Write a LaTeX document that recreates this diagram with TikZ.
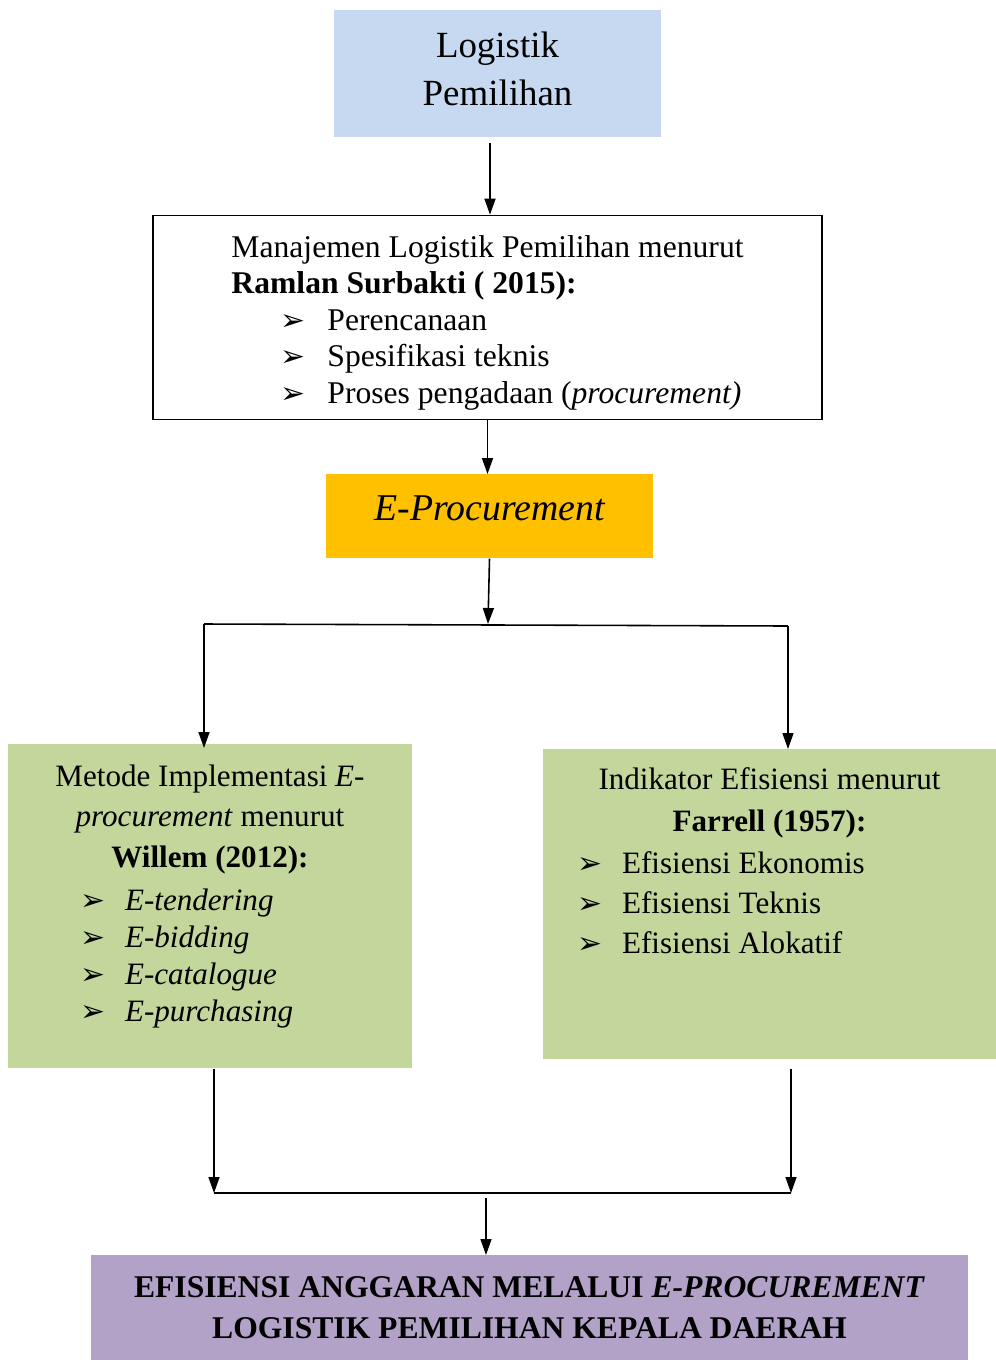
\documentclass[tikz,border=0pt]{standalone}
\usepackage{fontspec}
\setmainfont{Liberation Serif}
\newfontfamily\symfont{DejaVu Sans}
\usepackage{tikz}
\usetikzlibrary{positioning}
\usetikzlibrary{arrows.meta}
\definecolor{logblue}{HTML}{C6D9F1}
\definecolor{procgold}{HTML}{FFC000}
\definecolor{leafgreen}{HTML}{C3D69B}
\definecolor{resultlilac}{HTML}{B2A2C7}
\newcommand{\pointer}{{\symfont\fontsize{17}{17}\selectfont ➢}}
\newcommand{\pointitem}[2]{\makebox[#1][l]{\pointer}#2}

\begin{document}
\begin{tikzpicture}[x=0.02cm, y=-0.02cm,
topnode/.style={rectangle, fill=logblue, inner sep=0pt, minimum width=6.54cm, align=center, text height=1.9cm, text depth=0.64cm, font=\fontsize{21}{27.2}\selectfont},
managenode/.style={rectangle, draw=black, line width=0.8pt, fill=white, inner sep=0pt, minimum width=13.38cm, align=left, text height=3.76cm, text depth=0.32cm, font=\fontsize{18}{20.8}\selectfont},
procnode/.style={rectangle, fill=procgold, inner sep=0pt, minimum width=6.54cm, align=center, text height=0.92cm, text depth=0.76cm, font=\fontsize{21.5}{24}\selectfont\itshape},
branchnode/.style={rectangle, fill=leafgreen, inner sep=0pt, align=center, font=\fontsize{17.7}{21}\selectfont},
resultnode/.style={rectangle, fill=resultlilac, inner sep=0pt, minimum width=17.54cm, align=center, text height=1.66cm, text depth=0.44cm, font=\fontsize{18}{23.3}\selectfont\bfseries},
arr/.style={-{Triangle[length=0.32cm,width=0.22cm]}, line width=0.9pt},
link/.style={line width=0.9pt},
]
\useasboundingbox (0,0) rectangle (996,1360);

%Nodes
\node[topnode]		(logistik)	[anchor=north]	at (497.5,10)	{Logistik\\Pemilihan};
\node[managenode]	(manajemen)	[below=1.54cm of logistik, xshift=-0.2cm]
	{Manajemen Logistik Pemilihan menurut\\
	\textbf{Ramlan Surbakti ( 2015):}\\
	\hspace*{0.98cm}\pointitem{0.94cm}{Perencanaan}\\
	\hspace*{0.98cm}\pointitem{0.94cm}{Spesifikasi teknis}\\
	\hspace*{0.98cm}\pointitem{0.94cm}{Proses pengadaan (\textit{procurement)}}};
\node[procnode]		(eproc)		[below=1.08cm of manajemen, xshift=0.04cm]	{E-Procurement};
\node[branchnode, minimum width=8.08cm, text height=5.54cm, text depth=0.94cm]	(metode)	[anchor=north]	at (210,744)
	{Metode Implementasi \textit{E-}\\[2.2pt]
	\textit{procurement} menurut\\[2.2pt]
	\textbf{Willem (2012):}\\[3.4pt]
	\makebox[5.2cm][l]{\pointitem{0.9cm}{\textit{E-tendering}}}\\
	\makebox[5.2cm][l]{\pointitem{0.9cm}{\textit{E-bidding}}}\\
	\makebox[5.2cm][l]{\pointitem{0.9cm}{\textit{E-catalogue}}}\\
	\makebox[5.2cm][l]{\pointitem{0.9cm}{\textit{E-purchasing}}}};
\node[branchnode, minimum width=9.06cm, text height=4.08cm, text depth=2.12cm]	(indikator)	[anchor=north]	at (769.5,749)
	{Indikator Efisiensi menurut\\[2.8pt]
	\textbf{Farrell (1957):}\\[2.8pt]
	\makebox[7.7cm][l]{\pointitem{0.9cm}{Efisiensi Ekonomis}}\\[1.7pt]
	\makebox[7.7cm][l]{\pointitem{0.9cm}{Efisiensi Teknis}}\\[1.7pt]
	\makebox[7.7cm][l]{\pointitem{0.9cm}{Efisiensi Alokatif}}};
\node[resultnode]	(hasil)		[anchor=north]	at (529.5,1255)
	{EFISIENSI ANGGARAN MELALUI \textit{E-PROCUREMENT}\\
	LOGISTIK PEMILIHAN KEPALA DAERAH};

%Junctions
\coordinate (split)  at (488,624);
\coordinate (splitL) at (204,624);
\coordinate (splitR) at (788,626);
\coordinate (joinL)  at (214,1193);
\coordinate (joinR)  at (791,1193);
\coordinate (join)   at (486,1198);

%Lines
\draw[arr] ([xshift=0.05cm, yshift=-0.1cm]manajemen.north |- logistik.south) -- ([xshift=0.05cm]manajemen.north);
\draw[arr] (manajemen.south) -- (manajemen.south |- eproc.north);
\draw[arr] (eproc.south) -- (split);
\draw[link] (splitL) -- (splitR);
\draw[arr] (splitL) -- ([yshift=-0.08cm]splitL |- metode.north);
\draw[arr] (splitR) -- (splitR |- indikator.north);
\draw[arr] (joinL |- metode.south) -- (joinL);
\draw[arr] ([yshift=-0.18cm]joinR |- indikator.south) -- (joinR);
\draw[link] (joinL) -- (joinR);
\draw[arr] (join) -- (join |- hasil.north);
\end{tikzpicture}
\end{document}
